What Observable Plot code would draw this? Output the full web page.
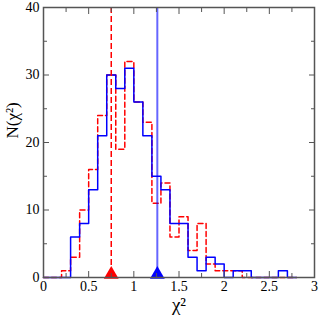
<!DOCTYPE html>
<html><head><meta charset="utf-8">
<script src="https://cdn.jsdelivr.net/npm/d3@7"></script>
<script src="https://cdn.jsdelivr.net/npm/@observablehq/plot@0.6"></script>
<style>
body{margin:0;background:#fff}
#chart svg, #chart svg text { font-family: "Liberation Serif", "Times New Roman", Times, "DejaVu Serif", "Noto Serif", serif !important; }
</style>
</head><body><div id="chart"></div>
<script>
// Bin left edges (width 0.1) plus the final right edge
const binEdges = [0,0.1,0.2,0.3,0.4,0.5,0.6,0.7,0.8,0.9,1.0,1.1,1.2,1.3,1.4,1.5,1.6,1.7,1.8,1.9,2.0,2.1,2.2,2.3,2.4,2.5,2.6,2.7,2.8];
const countsBlue = [0,0,0,6,8,13,21,30,28,31,26,21,15,13,8,8,3,1,3,2,0,1,1,0,0,0,1,0];
const countsRed  = [0,0,1,3,10,16,24,30,19,32,26,23,11,14,6,9,4,8,2,1,1,1,0,0,0,0,0,0];
const markerRed = [0.75];
const markerBlue = [1.26];
const xMajorTicks = [0,0.5,1,1.5,2,2.5,3];
const xMinorTicks = [0.25,0.75,1.25,1.75,2.25,2.75];
const yMajorTicks = [0,10,20,30,40];
const yMinorTicks = [5,15,25,35];
const xTitle = "χ²";
const yTitle = "N(χ²)";

function stepRows(counts) {
  const rows = counts.map((c, i) => ({x: binEdges[i], y: c}));
  rows.push({x: binEdges[counts.length], y: counts[counts.length - 1]});
  return rows;
}

const axisColor = "#555";
const serif = "'Liberation Serif', 'Times New Roman', Times, serif";
const chart = Plot.plot({
  width: 319, height: 317,
  marginLeft: 43, marginRight: 5, marginTop: 7, marginBottom: 40,
  style: {fontFamily: serif, fontSize: "14px", color: "#000", background: "#fff"},
  x: {domain: [0, 3]},
  y: {domain: [0, 40]},
  marks: [
    Plot.line(stepRows(countsRed), {x: "x", y: "y", curve: "step-after", stroke: "#ff0000", strokeWidth: 1.5, strokeDasharray: "5,3"}),
    Plot.line(stepRows(countsBlue), {x: "x", y: "y", curve: "step-after", stroke: "#0000ff", strokeWidth: 1.5}),
    Plot.ruleX(markerRed, {stroke: "#ff0000", strokeWidth: 1.5, strokeDasharray: "6,3"}),
    Plot.ruleX(markerBlue, {stroke: "#0000ff", strokeOpacity: 0.6, strokeWidth: 2}),
    Plot.dot(markerRed, {x: d => d, y: 0, symbol: "triangle", fill: "#ff0000", stroke: "none", r: 5.5, dy: -3}),
    Plot.dot(markerBlue, {x: d => d, y: 0, symbol: "triangle", fill: "#0000ff", stroke: "none", r: 5.5, dy: -3}),
    Plot.frame({stroke: axisColor, strokeWidth: 1.5}),
    Plot.axisX(xMajorTicks, {anchor: "bottom", tickSize: -6, tickPadding: 10, tickFormat: d => String(d), label: null, stroke: axisColor, fontSize: 14, fill: "#000"}),
    Plot.axisX(xMajorTicks, {anchor: "top", tickSize: -6, tickFormat: () => "", label: null, stroke: axisColor}),
    Plot.axisX(xMinorTicks, {anchor: "bottom", tickSize: -4, tickFormat: () => "", label: null, stroke: axisColor}),
    Plot.axisX(xMinorTicks, {anchor: "top", tickSize: -4, tickFormat: () => "", label: null, stroke: axisColor}),
    Plot.axisY(yMajorTicks, {anchor: "left", tickSize: -6, tickPadding: 10, tickFormat: d => String(d), label: null, stroke: axisColor, fontSize: 14, fill: "#000"}),
    Plot.axisY(yMajorTicks, {anchor: "right", tickSize: -6, tickFormat: () => "", label: null, stroke: axisColor}),
    Plot.axisY(yMinorTicks, {anchor: "left", tickSize: -4, tickFormat: () => "", label: null, stroke: axisColor}),
    Plot.axisY(yMinorTicks, {anchor: "right", tickSize: -4, tickFormat: () => "", label: null, stroke: axisColor}),
    Plot.text([xTitle], {frameAnchor: "bottom", dy: 33, fontSize: 19, fill: "#000", fontFamily: serif}),
    Plot.text([yTitle], {frameAnchor: "left", dx: -31, dy: -4, rotate: -90, fontSize: 17, fill: "#000", fontFamily: serif})
  ]
});
document.getElementById("chart").appendChild(chart);
</script>
</body></html>
